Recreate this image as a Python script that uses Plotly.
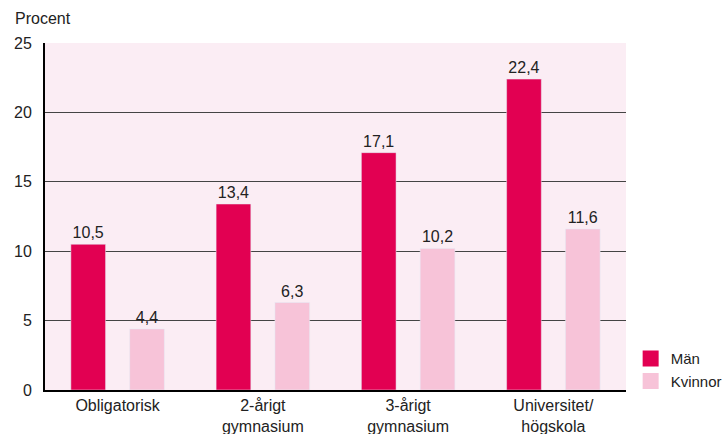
import plotly.graph_objects as go

categories = ["Obligatorisk", "2-årigt<br>gymnasium", "3-årigt<br>gymnasium", "Universitet/<br>högskola"]
man = [10.5, 13.4, 17.1, 22.4]
kvinnor = [4.4, 6.3, 10.2, 11.6]
y_ticks = [0, 5, 10, 15, 20, 25]

series = [("Män", man, "#E20052"), ("Kvinnor", kvinnor, "#F7C3D8")]

def fmt(v):
    return f"{v:.1f}".replace(".", ",")

FONT = "Liberation Sans, Arial, sans-serif"

fig = go.Figure()
for name, vals, color in series:
    fig.add_trace(go.Bar(
        x=categories, y=vals, name=name, marker_color=color,
        text=[fmt(v) for v in vals], textposition="outside", cliponaxis=False,
        textfont=dict(size=16, color="#222222"), showlegend=False,
    ))
# legend entries drawn as larger square swatches
for name, vals, color in series:
    fig.add_trace(go.Scatter(
        x=[None], y=[None], mode="markers", name=name,
        marker=dict(symbol="square", size=17, color=color),
    ))

fig.update_layout(
    width=724, height=434,
    margin=dict(l=45, r=98, t=43, b=44, autoexpand=False),
    paper_bgcolor="white", plot_bgcolor="#FBEDF4",
    barmode="group", bargap=0.19, bargroupgap=0.41,
    font=dict(family=FONT, size=16, color="#222222"),
    showlegend=True,
    legend=dict(x=1.008, y=-0.021, xanchor="left", yanchor="bottom",
                font=dict(size=15), itemwidth=30, itemsizing="trace",
                bgcolor="rgba(0,0,0,0)"),
    annotations=[dict(text="Procent", x=0, xref="paper", xshift=-32, y=1, yref="paper",
                      yshift=14, xanchor="left", yanchor="bottom", showarrow=False,
                      font=dict(size=16, color="#222222"))],
)
fig.update_yaxes(range=[0, 25], tickvals=y_ticks, ticktext=[str(t) for t in y_ticks],
                 showgrid=True, gridcolor="#444444", gridwidth=1,
                 showline=True, linecolor="black", linewidth=2,
                 zeroline=False, ticks="", ticklabelstandoff=8, automargin=False)
fig.update_xaxes(showline=True, linecolor="black", linewidth=2, ticks="",
                 showgrid=False, automargin=False)

fig.write_html("out.html")
